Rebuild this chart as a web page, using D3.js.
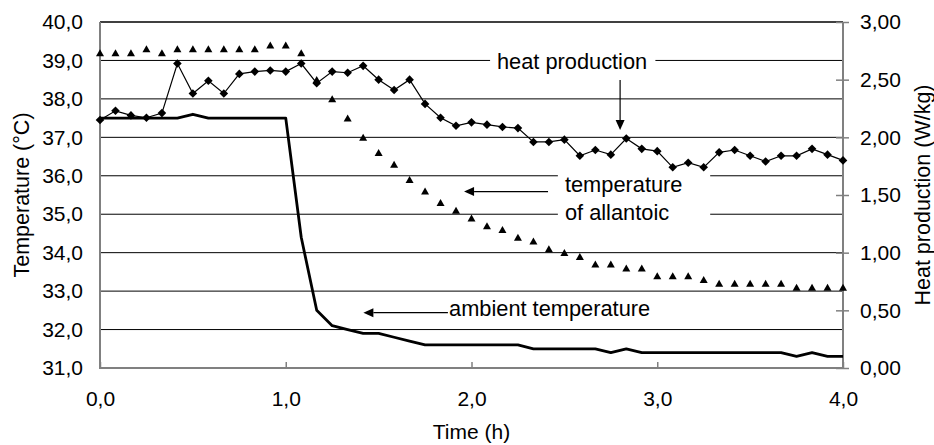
<!DOCTYPE html>
<html>
<head>
<meta charset="utf-8">
<script src="https://cdn.jsdelivr.net/npm/d3@7"></script>
<style>
  body { margin: 0; background: #fff; }
  text { font-family: "Liberation Sans", Arial, sans-serif; fill: #000; }
</style>
</head>
<body>
<div id="chart"></div>
<script>
// sample times, every 5 minutes
var minutes = [0, 5, 10, 15, 20, 25, 30, 35, 40, 45, 50, 55, 60, 65, 70, 75, 80, 85, 90, 95,
  100, 105, 110, 115, 120, 125, 130, 135, 140, 145, 150, 155, 160, 165, 170, 175, 180, 185, 190, 195,
  200, 205, 210, 215, 220, 225, 230, 235, 240];

// temperature of allantoic (°C), triangles
var allantoic = [39.2, 39.2, 39.2, 39.3, 39.2, 39.3, 39.3, 39.3, 39.3, 39.3,
  39.3, 39.4, 39.4, 39.2, 38.5, 38.0, 37.5, 37.0, 36.6, 36.3,
  35.9, 35.6, 35.3, 35.1, 34.9, 34.7, 34.6, 34.4, 34.3, 34.1,
  34.0, 33.9, 33.7, 33.7, 33.6, 33.6, 33.4, 33.4, 33.4, 33.3,
  33.2, 33.2, 33.2, 33.2, 33.2, 33.1, 33.1, 33.1, 33.1];

// heat production (W/kg), diamonds, right axis
var heatProduction = [2.15, 2.23, 2.19, 2.17, 2.21, 2.64, 2.38, 2.49, 2.38, 2.55,
  2.57, 2.58, 2.57, 2.64, 2.47, 2.57, 2.56, 2.62, 2.50, 2.41,
  2.50, 2.29, 2.17, 2.10, 2.13, 2.11, 2.09, 2.08, 1.96, 1.96,
  1.98, 1.84, 1.89, 1.85, 1.99, 1.90, 1.88, 1.74, 1.78, 1.74,
  1.87, 1.89, 1.84, 1.79, 1.84, 1.84, 1.90, 1.85, 1.80];

// ambient temperature (°C), thick line
var ambient = [37.5, 37.5, 37.5, 37.5, 37.5, 37.5, 37.6, 37.5, 37.5, 37.5,
  37.5, 37.5, 37.5, 34.4, 32.5, 32.1, 32.0, 31.9, 31.9, 31.8,
  31.7, 31.6, 31.6, 31.6, 31.6, 31.6, 31.6, 31.6, 31.5, 31.5,
  31.5, 31.5, 31.5, 31.4, 31.5, 31.4, 31.4, 31.4, 31.4, 31.4,
  31.4, 31.4, 31.4, 31.4, 31.4, 31.3, 31.4, 31.3, 31.3];

var tempTicks = [31, 32, 33, 34, 35, 36, 37, 38, 39, 40];
var tempLabels = ["31,0", "32,0", "33,0", "34,0", "35,0", "36,0", "37,0", "38,0", "39,0", "40,0"];
var heatTicks = [0, 0.5, 1, 1.5, 2, 2.5, 3];
var heatLabels = ["0,00", "0,50", "1,00", "1,50", "2,00", "2,50", "3,00"];
var timeTicks = [0, 1, 2, 3, 4];
var timeLabels = ["0,0", "1,0", "2,0", "3,0", "4,0"];

(function() {
  var width = 934,
      height = 445,
      left = 100, right = 843, top = 22, bottom = 368;

  var svg = d3.select("#chart")
    .append("svg")
    .attr("width", width)
    .attr("height", height);

  var x = d3.scaleLinear().domain([0, 4]).range([left, right]);
  var y = d3.scaleLinear().domain([31, 40]).range([bottom, top]);
  var yHeat = d3.scaleLinear().domain([0, 3]).range([bottom, top]);

  var rows = minutes.map(function(m, i) {
    return { t: m / 60, allantoic: allantoic[i], heat: heatProduction[i], ambient: ambient[i] };
  });

  // gridlines
  svg.append("g").selectAll("line")
    .data(tempTicks.slice(1, -1))
    .enter().append("line")
    .attr("x1", left).attr("x2", right)
    .attr("y1", function(d) { return y(d); })
    .attr("y2", function(d) { return y(d); })
    .attr("stroke", "#000")
    .attr("stroke-width", 1);

  // white boxes behind the labels (they cut the gridlines)
  var boxes = [
    { t0: 2.10, t1: 2.99, v0: 39.5, v1: 38.65 },
    { t0: 2.465, t1: 3.285, v0: 36.2, v1: 34.75 }
  ];
  svg.append("g").selectAll("rect")
    .data(boxes)
    .enter().append("rect")
    .attr("x", function(d) { return x(d.t0); })
    .attr("width", function(d) { return x(d.t1) - x(d.t0); })
    .attr("y", function(d) { return y(d.v0); })
    .attr("height", function(d) { return y(d.v1) - y(d.v0); })
    .attr("fill", "#fff");

  // frame
  svg.append("line").attr("x1", left).attr("x2", right).attr("y1", top).attr("y2", top)
    .attr("stroke", "#000").attr("stroke-width", 1.5);
  svg.append("line").attr("x1", left).attr("x2", left).attr("y1", top).attr("y2", bottom)
    .attr("stroke", "#808080").attr("stroke-width", 2);
  svg.append("line").attr("x1", right).attr("x2", right).attr("y1", top).attr("y2", bottom)
    .attr("stroke", "#808080").attr("stroke-width", 2);
  svg.append("line").attr("x1", left - 1).attr("x2", right + 1).attr("y1", bottom).attr("y2", bottom)
    .attr("stroke", "#808080").attr("stroke-width", 2);

  // left axis
  var axisLeft = svg.append("g")
    .attr("transform", "translate(" + left + ",0)")
    .call(d3.axisLeft(y).tickValues(tempTicks).tickSize(0).tickPadding(17)
      .tickFormat(function(d, i) { return tempLabels[i]; }));
  axisLeft.select(".domain").remove();

  // right axis, ticks cross the line
  var axisRight = svg.append("g")
    .attr("transform", "translate(" + right + ",0)")
    .call(d3.axisRight(yHeat).tickValues(heatTicks).tickSize(6).tickPadding(11)
      .tickFormat(function(d, i) { return heatLabels[i]; }));
  axisRight.select(".domain").remove();
  axisRight.selectAll(".tick line").attr("x1", -7).attr("stroke", "#808080").attr("stroke-width", 1.5);

  // bottom axis, ticks point up
  var axisBottom = svg.append("g")
    .attr("transform", "translate(0," + bottom + ")")
    .call(d3.axisBottom(x).tickValues(timeTicks).tickSize(0).tickPadding(23)
      .tickFormat(function(d, i) { return timeLabels[i]; }));
  axisBottom.select(".domain").remove();
  axisBottom.selectAll(".tick line").attr("y2", -6).attr("stroke", "#808080").attr("stroke-width", 1.5);

  svg.selectAll(".tick text")
    .style("font-family", "Liberation Sans, Arial, sans-serif")
    .style("font-size", "21px")
    .attr("fill", "#000");

  // axis titles
  svg.append("text")
    .attr("transform", "translate(28.5," + (top + bottom) / 2 + ") rotate(-90)")
    .attr("text-anchor", "middle")
    .style("font-size", "21.5px")
    .text("Temperature (\u00B0C)");

  svg.append("text")
    .attr("transform", "translate(930," + (top + bottom) / 2 + ") rotate(-90)")
    .attr("text-anchor", "middle")
    .style("font-size", "21.5px")
    .text("Heat production (W/kg)");

  svg.append("text")
    .attr("x", (left + right) / 2)
    .attr("y", 439)
    .attr("text-anchor", "middle")
    .style("font-size", "21px")
    .text("Time (h)");

  // ambient temperature line
  var lineAmbient = d3.line()
    .x(function(d) { return x(d.t); })
    .y(function(d) { return y(d.ambient); });
  svg.append("path")
    .datum(rows)
    .attr("d", lineAmbient)
    .attr("fill", "none")
    .attr("stroke", "#000")
    .attr("stroke-width", 2.8)
    .attr("stroke-linejoin", "round");

  // heat production line + diamonds
  var lineHeat = d3.line()
    .x(function(d) { return x(d.t); })
    .y(function(d) { return yHeat(d.heat); });
  svg.append("path")
    .datum(rows)
    .attr("d", lineHeat)
    .attr("fill", "none")
    .attr("stroke", "#000")
    .attr("stroke-width", 1.2);

  svg.append("g").selectAll("path")
    .data(rows)
    .enter().append("path")
    .attr("transform", function(d) { return "translate(" + x(d.t) + "," + yHeat(d.heat) + ")"; })
    .attr("d", "M0,-4.3L4.3,0L0,4.3L-4.3,0Z")
    .attr("fill", "#000");

  // allantoic triangles
  svg.append("g").selectAll("path")
    .data(rows)
    .enter().append("path")
    .attr("transform", function(d) { return "translate(" + x(d.t) + "," + y(d.allantoic) + ")"; })
    .attr("d", "M0,-3.6L4,3.4L-4,3.4Z")
    .attr("fill", "#000");

  // annotations
  var labels = [
    { t: 2.137, v: 38.78, text: "heat production" },
    { t: 2.503, v: 35.57, text: "temperature" },
    { t: 2.503, v: 34.84, text: "of allantoic" },
    { t: 1.879, v: 32.36, text: "ambient temperature" }
  ];
  svg.append("g").selectAll("text")
    .data(labels)
    .enter().append("text")
    .attr("x", function(d) { return x(d.t); })
    .attr("y", function(d) { return y(d.v); })
    .style("font-size", "21.8px")
    .text(function(d) { return d.text; });

  var arrows = [
    { t0: 2.80, v0: 38.49, t1: 2.80, v1: 37.19 },
    { t0: 2.412, v0: 35.59, t1: 1.96, v1: 35.59 },
    { t0: 1.873, v0: 32.44, t1: 1.418, v1: 32.44 }
  ];
  arrows.forEach(function(a) {
    var x0 = x(a.t0), y0 = y(a.v0), x1 = x(a.t1), y1 = y(a.v1);
    var ang = Math.atan2(y1 - y0, x1 - x0);
    var len = 10, hw = 4.5;
    var bx = x1 - len * Math.cos(ang), by = y1 - len * Math.sin(ang);
    svg.append("line")
      .attr("x1", x0).attr("y1", y0).attr("x2", bx).attr("y2", by)
      .attr("stroke", "#000").attr("stroke-width", 1.2);
    svg.append("path")
      .attr("d", "M" + x1 + "," + y1 +
        "L" + (bx - hw * Math.sin(ang)) + "," + (by + hw * Math.cos(ang)) +
        "L" + (bx + hw * Math.sin(ang)) + "," + (by - hw * Math.cos(ang)) + "Z")
      .attr("fill", "#000");
  });
})();
</script>
</body>
</html>
